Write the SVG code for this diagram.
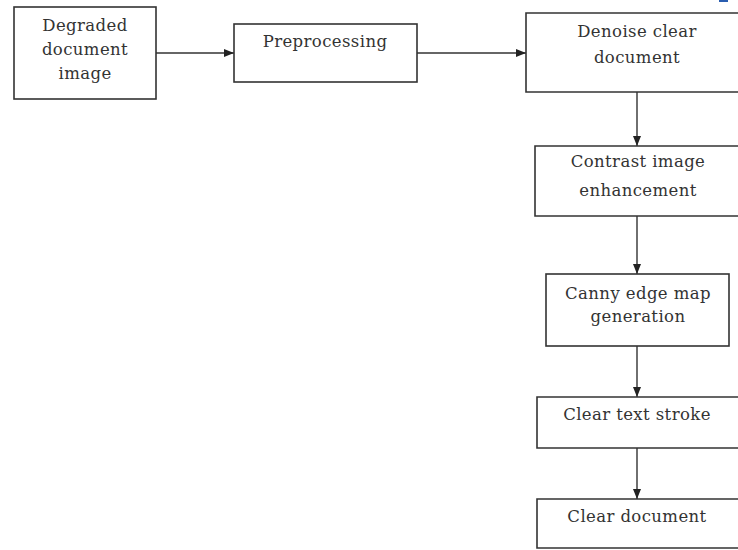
<svg xmlns="http://www.w3.org/2000/svg" width="738" height="550" viewBox="0 0 738 550">
<style>
.box{fill:#fff;stroke:#333;stroke-width:1.6}
.t{font-family:"DejaVu Serif","Liberation Serif",serif;font-size:16.5px;letter-spacing:0.4px;fill:#333;text-anchor:middle}
.c{stroke:#333;stroke-width:1.4;fill:none;marker-end:url(#ah)}
</style>
<defs>
<marker id="ah" viewBox="0 0 10 8" refX="10" refY="4" markerWidth="10" markerHeight="8" markerUnits="userSpaceOnUse" orient="auto">
<path d="M0,0 L10,4 L0,8 z" fill="#222"/>
</marker>
</defs>
<rect width="738" height="550" fill="#fff"/>
<rect x="719" y="0" width="9" height="2" fill="#2a5db0"/>
<g id="connectors">
<line class="c" x1="156" y1="53" x2="234" y2="53"/>
<line class="c" x1="417" y1="53" x2="526" y2="53"/>
<line class="c" x1="637" y1="92" x2="637" y2="146"/>
<line class="c" x1="637" y1="216" x2="637" y2="274"/>
<line class="c" x1="637" y1="346" x2="637" y2="397"/>
<line class="c" x1="637" y1="448" x2="637" y2="499"/>
</g>
<g id="n1">
<rect class="box" x="14" y="7" width="142" height="92"/>
<text class="t" x="85" y="31">Degraded</text>
<text class="t" x="85" y="55">document</text>
<text class="t" x="85" y="79">image</text>
</g>
<g id="n2">
<rect class="box" x="234" y="24" width="183" height="58"/>
<text class="t" x="325" y="47">Preprocessing</text>
</g>
<g id="n3">
<path class="box" d="M740,13 H526 V92 H740"/>
<text class="t" x="637" y="37">Denoise clear</text>
<text class="t" x="637" y="63">document</text>
</g>
<g id="n4">
<path class="box" d="M740,146 H535 V216 H740"/>
<text class="t" x="638" y="167">Contrast image</text>
<text class="t" x="638" y="196">enhancement</text>
</g>
<g id="n5">
<rect class="box" x="546" y="274" width="183" height="72"/>
<text class="t" x="638" y="299">Canny edge map</text>
<text class="t" x="638" y="322">generation</text>
</g>
<g id="n6">
<path class="box" d="M740,397 H537 V448 H740"/>
<text class="t" x="637" y="420">Clear text stroke</text>
</g>
<g id="n7">
<path class="box" d="M740,499 H537 V548 H740"/>
<text class="t" x="637" y="522">Clear document</text>
</g>
</svg>
